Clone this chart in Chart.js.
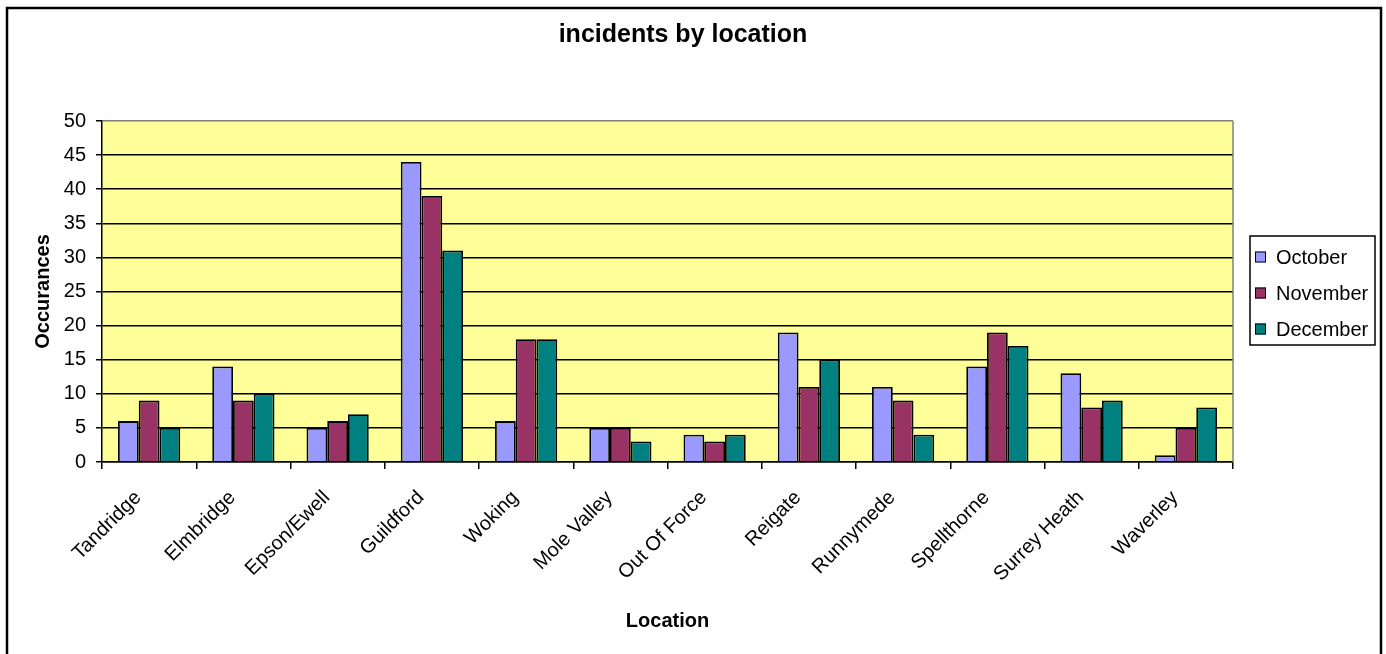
<!DOCTYPE html>
<html><head><meta charset="utf-8">
<script src="https://cdn.jsdelivr.net/npm/chart.js@4"></script>
<style>html,body{margin:0;padding:0;background:#fff;overflow:hidden}canvas{display:block}</style>
</head><body>
<canvas id="c" width="1386" height="654"></canvas>
<script>
const categories = ['Tandridge','Elmbridge','Epson/Ewell','Guildford','Woking','Mole Valley','Out Of Force','Reigate','Runnymede','Spellthorne','Surrey Heath','Waverley'];
const october  = [6, 14, 5, 44, 6, 5, 4, 19, 11, 14, 13, 1];
const november = [9, 9, 6, 39, 18, 5, 3, 11, 9, 19, 8, 5];
const december = [5, 10, 7, 31, 18, 3, 4, 15, 4, 17, 9, 8];
const seriesNames = ['October', 'November', 'December'];
const yMin = 0, yMax = 50, yStep = 5;

const F = '"Liberation Sans", Arial, sans-serif';
const colors = ['#9999FF', '#993366', '#008080'];

const framePlugin = {
  id: 'frame',
  beforeDraw(chart) {
    const {ctx, chartArea: a} = chart;
    ctx.save();
    ctx.fillStyle = '#fff';
    ctx.fillRect(0, 0, chart.width, chart.height);
    ctx.fillStyle = '#FFFF99';
    ctx.fillRect(a.left, a.top, a.right - a.left, a.bottom - a.top);
    ctx.restore();
  },
  beforeDatasetsDraw(chart) {
    const {ctx, chartArea: a} = chart;
    ctx.save();
    ctx.strokeStyle = '#808080';
    ctx.lineWidth = 1.5;
    ctx.beginPath();
    ctx.moveTo(a.right, a.top);
    ctx.lineTo(a.right, a.bottom);
    ctx.stroke();
    ctx.restore();
  },
  afterDraw(chart) {
    const {ctx} = chart;
    ctx.save();
    // outer border
    ctx.strokeStyle = '#000';
    ctx.lineWidth = 2.5;
    ctx.strokeRect(7, 8, 1374, 660);
    // legend
    const lx = 1250, ly = 236, lw = 125, lh = 109;
    ctx.lineWidth = 1.5;
    ctx.strokeRect(lx, ly, lw, lh);
    ctx.font = '20px ' + F;
    ctx.textBaseline = 'middle';
    ctx.textAlign = 'left';
    const rows = [257, 293, 329];
    chart.data.datasets.forEach((ds, i) => {
      const cy = rows[i];
      ctx.fillStyle = ds.backgroundColor;
      ctx.fillRect(1255, cy - 5.5, 11, 11);
      ctx.strokeStyle = '#000';
      ctx.lineWidth = 1;
      ctx.strokeRect(1255.5, cy - 5, 10, 10);
      ctx.fillStyle = '#000';
      ctx.fillText(ds.label, 1276, cy + 1);
    });
    ctx.restore();
  }
};

new Chart(document.getElementById('c'), {
  type: 'bar',
  data: {
    labels: categories,
    datasets: [october, november, december].map((d, i) => ({
      label: seriesNames[i],
      data: d,
      backgroundColor: colors[i],
      borderColor: '#000',
      borderWidth: 1.8,
      categoryPercentage: 0.66,
      barPercentage: 1.0
    }))
  },
  options: {
    responsive: false,
    animation: false,
    devicePixelRatio: 1,
    layout: {padding: {left: 0, right: 20, top: 8, bottom: 12}},
    plugins: {
      legend: {display: false},
      tooltip: {enabled: false},
      title: {
        display: true, text: 'incidents by location', color: '#000',
        font: {family: F, size: 25, weight: 'bold'},
        padding: {top: 12, bottom: 71}
      }
    },
    scales: {
      x: {
        grid: {offset: true, drawOnChartArea: false, drawTicks: true, tickLength: 7, color: '#000', lineWidth: 1.5},
        border: {display: true, color: '#000', width: 1.5},
        ticks: {color: '#000', font: {family: F, size: 20}, minRotation: 45, maxRotation: 45, autoSkip: false, padding: 17, labelOffset: -11},
        title: {display: true, text: 'Location', color: '#000', font: {family: F, size: 20, weight: 'bold'}, padding: {top: 0, bottom: 9}},
        afterFit(s) { s.height = 180; }
      },
      y: {
        min: yMin, max: yMax,
        ticks: {stepSize: yStep, color: '#000', font: {family: F, size: 20}, padding: 10},
        grid: {
          color: c => (c.tick && c.tick.value === yMax) ? '#808080' : '#000',
          tickColor: '#000', lineWidth: 1.5, tickLength: 6
        },
        border: {color: '#000', width: 1.5},
        title: {display: true, text: 'Occurances', color: '#000', font: {family: F, size: 20, weight: 'bold'}, padding: {top: 31, bottom: 0}},
        afterFit(s) { s.width = 102; }
      },
      yR: {
        position: 'right', display: true,
        grid: {display: false}, border: {display: false}, ticks: {display: false},
        afterFit(s) { s.width = 133; }
      }
    }
  },
  plugins: [framePlugin]
});
</script>
</body></html>
